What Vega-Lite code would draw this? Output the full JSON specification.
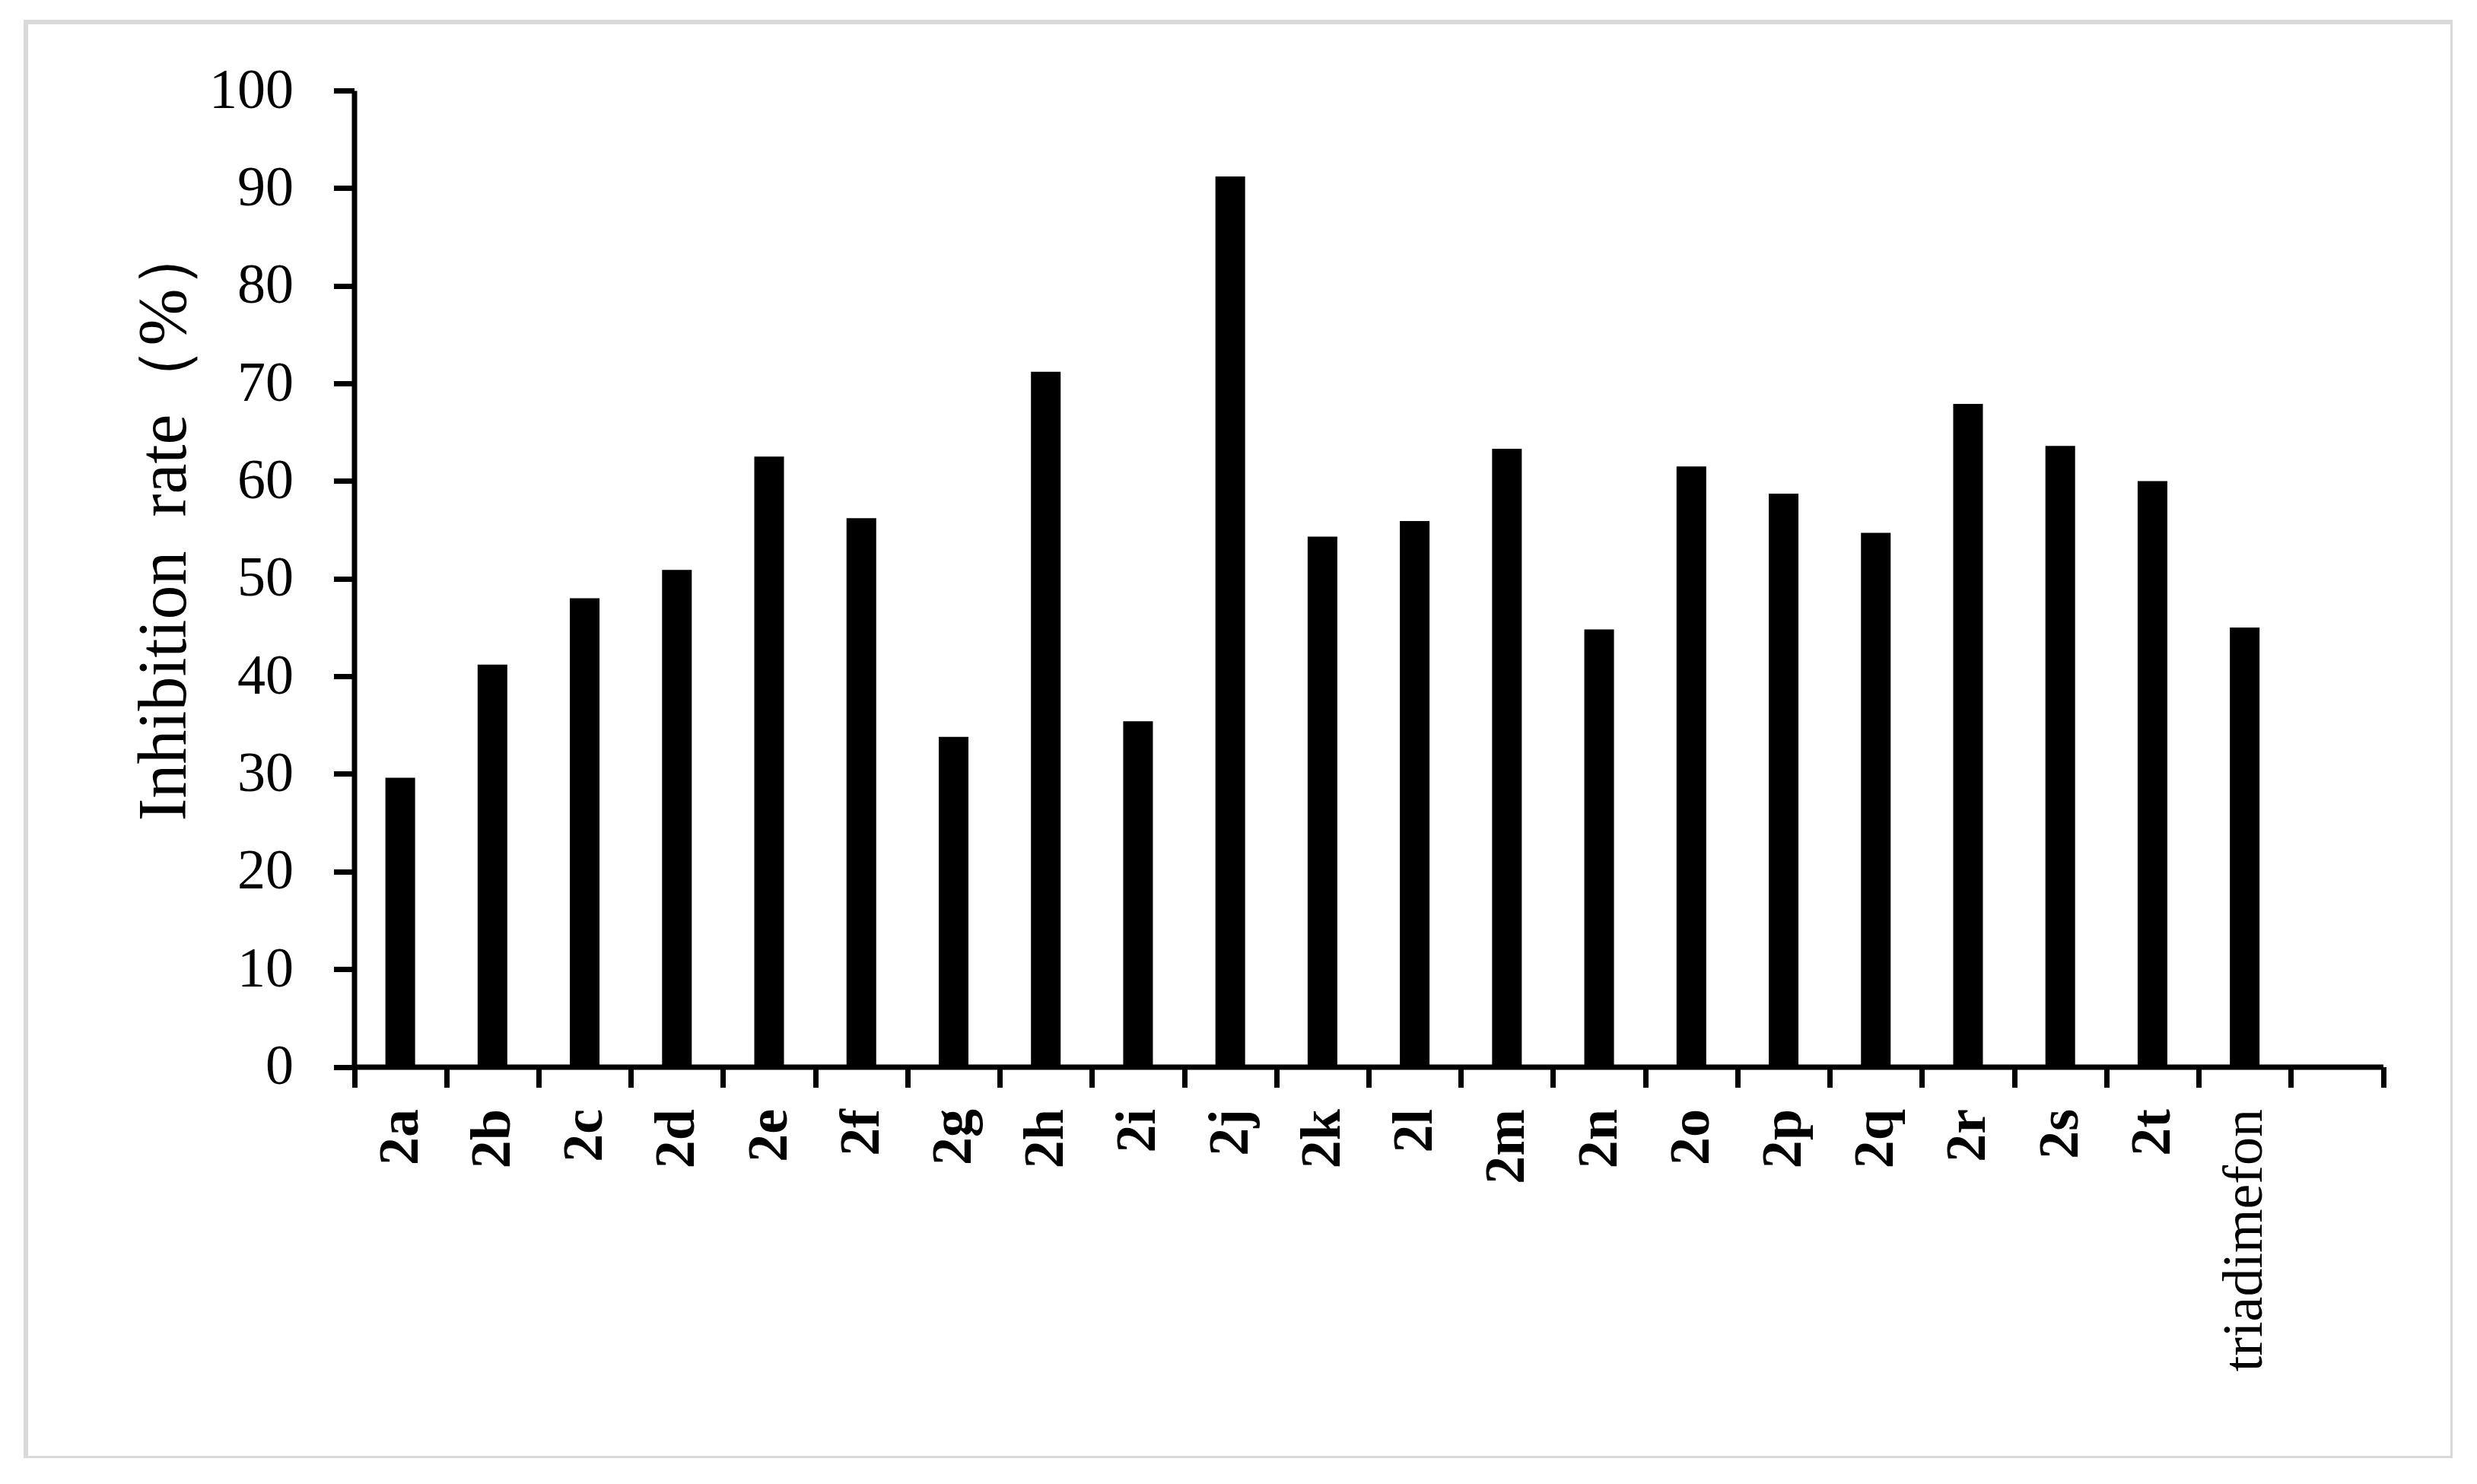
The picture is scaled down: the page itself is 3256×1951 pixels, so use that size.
{
  "$schema": "https://vega.github.io/schema/vega-lite/v6.json",
  "width": 3190,
  "height": 1888,
  "autosize": {"type": "none"},
  "padding": {"left": 34, "top": 29, "right": 0, "bottom": 0},
  "background": "white",
  "config": {
    "view": {"stroke": "#d9d9d9", "strokeWidth": 6},
    "font": "Liberation Serif"
  },
  "data": {
    "values": [
      {"compound": "2a", "rate": 29.6},
      {"compound": "2b", "rate": 41.2},
      {"compound": "2c", "rate": 48.0},
      {"compound": "2d", "rate": 50.9},
      {"compound": "2e", "rate": 62.5},
      {"compound": "2f", "rate": 56.2},
      {"compound": "2g", "rate": 33.8},
      {"compound": "2h", "rate": 71.2},
      {"compound": "2i", "rate": 35.4},
      {"compound": "2j", "rate": 91.2},
      {"compound": "2k", "rate": 54.3},
      {"compound": "2l", "rate": 55.9},
      {"compound": "2m", "rate": 63.3},
      {"compound": "2n", "rate": 44.8},
      {"compound": "2o", "rate": 61.5},
      {"compound": "2p", "rate": 58.7},
      {"compound": "2q", "rate": 54.7},
      {"compound": "2r", "rate": 67.9},
      {"compound": "2s", "rate": 63.6},
      {"compound": "2t", "rate": 60.0},
      {"compound": "triadimefon", "rate": 45.0}
    ]
  },
  "mark": {"type": "bar", "color": "black", "width": {"band": 0.322}},
  "encoding": {
    "x": {
      "field": "compound",
      "type": "nominal",
      "sort": null,
      "scale": {
        "domain": ["2a","2b","2c","2d","2e","2f","2g","2h","2i","2j","2k","2l","2m","2n","2o","2p","2q","2r","2s","2t","triadimefon"," "],
        "range": [431.5, 3098.5],
        "paddingInner": 0,
        "paddingOuter": 0
      },
      "axis": {
        "title": null,
        "offset": -514.5,
        "tickBand": "extent",
        "labelAngle": -90,
        "labelAlign": "right",
        "labelBaseline": "middle",
        "labelFont": "Liberation Serif",
        "labelFontSize": 74,
        "labelFontWeight": {"condition": {"test": "datum.value === 'triadimefon'", "value": "normal"}, "value": "bold"},
        "labelColor": "black",
        "labelPadding": 28,
        "labelLimit": 0,
        "labelOverlap": false,
        "tickSize": 27,
        "tickWidth": 7,
        "tickColor": "black",
        "domainColor": "black",
        "domainWidth": 7,
        "grid": false
      }
    },
    "y": {
      "field": "rate",
      "type": "quantitative",
      "scale": {"domain": [0, 100], "range": [1373.5, 90], "nice": false, "zero": true},
      "axis": {
        "title": "Inhibition\u00a0\u00a0rate（%）",
        "offset": -431.5,
        "values": [0, 10, 20, 30, 40, 50, 60, 70, 80, 90, 100],
        "labelFont": "Liberation Serif",
        "labelFontSize": 74,
        "labelColor": "black",
        "labelPadding": 53,
        "labelOverlap": false,
        "labelFlush": false,
        "tickSize": 27,
        "tickWidth": 7,
        "tickColor": "black",
        "domainColor": "black",
        "domainWidth": 7,
        "grid": false,
        "titleFont": "Liberation Serif",
        "titleFontSize": 90,
        "titleFontWeight": "normal",
        "titleColor": "black",
        "titlePadding": 12,
        "titleY": 655
      }
    }
  }
}
